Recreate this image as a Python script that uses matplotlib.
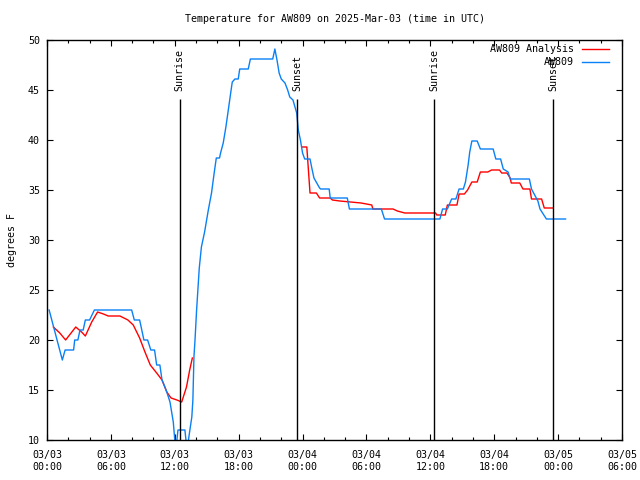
import numpy as np
import matplotlib
matplotlib.use("Agg")
import matplotlib.pyplot as plt
from matplotlib.lines import Line2D

# hours since 2025-03-03 00:00 UTC
obs_t = [0.2, 1.44, 1.7, 2.5, 2.6, 2.9, 3.1, 3.4, 3.6, 4.0, 4.45, 7.95, 8.2, 8.7,
         9.1, 9.45, 9.75, 10.1, 10.3, 10.6, 10.8, 11.0, 11.25, 11.55, 11.86, 12.0,
         12.1, 12.2, 12.3, 12.95, 13.1, 13.2, 13.35, 13.6, 13.7, 13.8, 13.9, 14.05,
         14.3, 14.5, 14.8, 15.15, 15.45, 15.7, 15.9, 16.2, 16.3, 16.55, 16.8, 17.0,
         17.25, 17.4, 17.65, 17.96, 18.1, 18.9, 19.1, 21.2, 21.4, 21.6, 21.8, 22.0,
         22.35, 22.6, 22.8, 23.1, 23.45, 23.6, 23.8, 24.0, 24.2, 24.7, 24.85, 25.07,
         25.6, 25.7, 26.5, 26.6, 28.2, 28.4, 31.4, 31.7, 36.9, 37.15, 37.6, 38.0,
         38.4, 38.7, 39.1, 39.3, 39.55, 39.7, 39.9, 40.4, 40.7, 41.9, 42.15, 42.6,
         42.85, 43.3, 43.5, 45.3, 45.5, 45.8, 46.1, 46.3, 46.9, 48.7]
obs_v = [23.0, 18.0, 19.0, 19.0, 20.0, 20.0, 21.0, 21.0, 22.0, 22.0, 23.0, 23.0, 22.0, 22.0,
         20.0, 20.0, 19.0, 19.0, 17.5, 17.5, 16.0, 15.5, 14.8, 13.8, 11.8, 10.0,
         9.3, 10.0, 11.0, 11.0, 9.5, 9.3, 10.5, 12.3, 14.0, 18.3, 20.0, 23.0,
         27.2, 29.3, 30.8, 33.0, 34.7, 36.7, 38.2, 38.2, 38.7, 39.7, 41.3, 42.8,
         44.7, 45.8, 46.1, 46.1, 47.1, 47.1, 48.1, 48.1, 49.1, 48.0, 46.7, 46.1,
         45.7, 45.0, 44.3, 44.0, 42.7, 41.0, 40.0, 38.7, 38.1, 38.1, 37.3, 36.2,
         35.2, 35.1, 35.1, 34.2, 34.2, 33.1, 33.1, 32.1, 32.1, 33.1, 33.1, 34.1,
         34.1, 35.1, 35.1, 35.8, 37.5, 38.8, 39.9, 39.9, 39.1, 39.1, 38.1, 38.1,
         37.1, 36.8, 36.1, 36.1, 35.1, 34.5, 33.9, 33.1, 32.1, 32.1]

ana_t = [0.6, 1.2, 1.75, 2.7, 3.25, 3.6, 4.2, 4.75, 5.3, 5.75, 6.85, 7.6, 8.1, 8.7,
         9.2, 9.7, 10.3, 10.8, 11.25, 11.65, 12.2, 12.65, 13.1, 13.4, 13.65, 18.0,
         24.0, 24.4, 24.55, 24.7, 25.3, 25.6, 26.6, 26.8, 27.5, 28.5, 29.5, 30.5,
         30.6, 32.5, 32.9, 33.6, 36.5, 36.6, 37.4, 37.6, 38.5, 38.7, 39.2, 39.5,
         39.9, 40.4, 40.7, 41.4, 41.75, 42.5, 42.7, 43.2, 43.5, 43.6, 44.4, 44.7,
         45.35, 45.5, 46.45, 46.7, 47.5]
ana_v = [21.3, 20.7, 20.0, 21.3, 20.8, 20.4, 21.8, 22.8, 22.6, 22.4, 22.4, 22.0, 21.5, 20.2,
         18.8, 17.5, 16.7, 16.0, 14.8, 14.2, 14.0, 13.8, 15.3, 17.0, 18.2, np.nan,
         39.3, 39.3, 37.0, 34.7, 34.7, 34.2, 34.2, 34.0, 33.9, 33.8, 33.7, 33.5,
         33.1, 33.1, 32.9, 32.7, 32.7, 32.5, 32.5, 33.5, 33.5, 34.6, 34.6, 35.0,
         35.8, 35.8, 36.8, 36.8, 37.0, 37.0, 36.7, 36.7, 36.2, 35.7, 35.7, 35.1,
         35.1, 34.1, 34.1, 33.2, 33.2]

sun_t = [12.45, 23.5, 36.37, 47.55]
sun_labels = ["Sunrise", "Sunset", "Sunrise", "Sunset"]

xtick_pos = [0, 6, 12, 18, 24, 30, 36, 42, 48, 54]
xtick_labels = ["03/03\n00:00", "03/03\n06:00", "03/03\n12:00", "03/03\n18:00",
                "03/04\n00:00", "03/04\n06:00", "03/04\n12:00", "03/04\n18:00",
                "03/05\n00:00", "03/05\n06:00"]
ytick_pos = [10, 15, 20, 25, 30, 35, 40, 45, 50]

FONT = "DejaVu Sans Mono"
FS = 7.2
plt.rcParams['font.family'] = [FONT, 'DejaVu Sans']

fig = plt.figure(figsize=(6.4, 4.8), dpi=100)
ax = fig.add_axes([47/640, 1-440/480, 575/640, 400/480])

red = '#ff0000'
blue = '#0a80f5'

ax.plot(ana_t, ana_v, color=red, lw=1.0)
ax.plot(obs_t, obs_v, color=blue, lw=1.0)

for t, lab in zip(sun_t, sun_labels):
    ax.vlines(t, 10, 44.1, color='black', lw=1.0)
    ax.text(t, 44.9, lab, rotation=90, ha='center', va='bottom', fontsize=FS, family=FONT)

ax.set_xlim(0, 54)
ax.set_ylim(10, 50)
ax.set_xticks(xtick_pos)
ax.set_xticklabels(xtick_labels, fontsize=FS, family=FONT, linespacing=1.3)
ax.set_xticks(np.arange(0, 55, 2), minor=True)
ax.set_yticks(ytick_pos)
ax.set_yticklabels([str(v) for v in ytick_pos], fontsize=FS, family=FONT)
ax.tick_params(which='both', direction='in', top=True, right=True, width=0.8)
ax.tick_params(which='major', length=4)
ax.tick_params(which='minor', length=2.5)
ax.tick_params(axis='x', which='major', pad=7)
ax.tick_params(axis='y', which='major', pad=5)
for s in ax.spines.values():
    s.set_linewidth(1.0)

ax.set_ylabel("degrees F", fontsize=FS, family=FONT, labelpad=8)
fig.text(335/640, 1-19/480, "Temperature for AW809 on 2025-Mar-03 (time in UTC)",
         ha='center', va='center', fontsize=FS, family=FONT)

# legend (gnuplot-style, right-aligned labels)
legend_entries = [("AW809 Analysis", red), ("AW809", blue)]
for i, (lab, col) in enumerate(legend_entries):
    yy = 0.9775 - i * 0.0335
    ax.text(0.9165, yy, lab, transform=ax.transAxes, ha='right', va='center',
            fontsize=FS, family=FONT)
    ax.add_line(Line2D([0.930, 0.977], [yy, yy], transform=ax.transAxes, color=col, lw=1.0))

fig.savefig("out.png", dpi=100)
